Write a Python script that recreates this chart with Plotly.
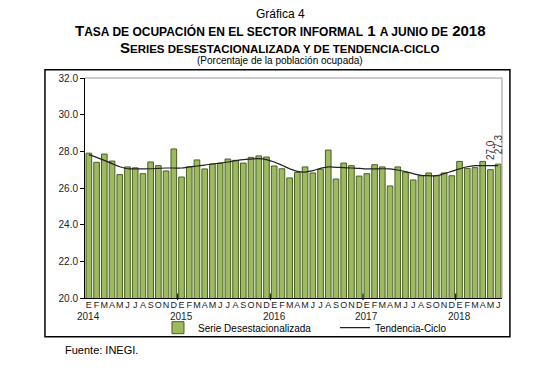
import plotly.graph_objects as go

month_letters = ["E", "F", "M", "A", "M", "J", "J", "A", "S", "O", "N", "D"]
years = [2014, 2015, 2016, 2017, 2018]

serie = [27.9, 27.4, 27.85, 27.47, 26.73, 27.15, 27.1, 26.78, 27.42, 27.22, 26.93, 28.13,
         26.6, 27.15, 27.53, 27.04, 27.31, 27.35, 27.58, 27.51, 27.36, 27.67, 27.75, 27.69,
         27.2, 27.05, 26.55, 26.85, 27.15, 26.82, 27.02, 28.07, 26.49, 27.36, 27.22, 26.65,
         26.78, 27.27, 27.15, 26.11, 27.15, 26.87, 26.44, 26.67, 26.82, 26.67, 26.82, 26.67,
         27.45, 27.07, 27.11, 27.45, 27.0, 27.3]

tendencia = [27.82, 27.67, 27.51, 27.33, 27.16, 27.05, 27.04, 27.04, 27.05, 27.07, 27.09, 27.09,
             27.09, 27.15, 27.2, 27.25, 27.31, 27.36, 27.42, 27.49, 27.55, 27.58, 27.6, 27.55,
             27.42, 27.24, 27.05, 26.91, 26.87, 26.95, 27.07, 27.15, 27.13, 27.11, 27.09, 27.07,
             27.04, 27.04, 27.05, 27.04, 26.98, 26.89, 26.78, 26.69, 26.67, 26.67, 26.78, 26.91,
             27.04, 27.16, 27.22, 27.22, 27.22, 27.22]

n = len(serie)
xs = list(range(n))
tick_text = [month_letters[i % 12] for i in xs]

FONT = "Arial, Liberation Sans, sans-serif"
TX = 0.468  # horizontal centre of the titles (paper)

fig = go.Figure()
fig.add_trace(go.Bar(
    x=xs, y=serie, name="Serie Desestacionalizada",
    marker=dict(color="#9dba5e", line=dict(color="#4a5e22", width=1)),
))
fig.add_trace(go.Scatter(
    x=xs, y=tendencia, name="Tendencia-Ciclo", mode="lines",
    line=dict(color="#222222", width=1.2, shape="spline"),
))

annotations = []
def ann(text, x, y, size, xref="paper", yref="paper", **kw):
    d = dict(text=text, x=x, y=y, xref=xref, yref=yref, showarrow=False,
             xanchor=kw.pop("xanchor", "center"), yanchor=kw.pop("yanchor", "middle"),
             font=dict(size=size, color=kw.pop("color", "black"), family=FONT))
    d.update(kw)
    annotations.append(d)

ann("Gráfica 4", TX, 1.292, 12)
s = "font-size:12px"
ann(f"<b>T<span style='{s}'>ASA DE OCUPACIÓN EN EL SECTOR INFORMAL</span> 1 "
    f"<span style='{s}'>A JUNIO DE</span> 2018</b>", TX, 1.214, 15)
s3 = "font-size:11.5px"
ann(f"<b>S<span style='{s3}'>ERIES DESESTACIONALIZADA Y DE TENDENCIA-CICLO</span></b>",
    TX, 1.140, 15)
ann("(Porcentaje de la población ocupada)", TX, 1.078, 10)
for k, yr in enumerate(years):
    ann(str(yr), k * 12, -0.083, 10, xref="x", color="#222")
for i in (n - 2, n - 1):
    ann(f"{serie[i]:.1f}", i, serie[i], 10, xref="x", yref="y", yanchor="bottom",
        textangle=-90, yshift=8, color="#333")
ann("Fuente: INEGI.", -0.053, -0.235, 11, xanchor="left")

shapes = []
shapes.append(dict(type="rect", xref="paper", yref="paper", x0=-0.096, x1=1.019,
                   y0=-0.176, y1=1.038, line=dict(color="black", width=1.5)))
shapes.append(dict(type="line", xref="paper", yref="paper", x0=0, x1=1, y0=1, y1=1,
                   line=dict(color="#999", width=1)))
shapes.append(dict(type="line", xref="paper", yref="paper", x0=1, x1=1, y0=0, y1=1,
                   line=dict(color="#999", width=1)))
for i in xs:
    if i > 0 and i % 12 == 0:
        shapes.append(dict(type="line", xref="x", yref="paper", x0=i - 0.5, x1=i - 0.5,
                           y0=-0.01, y1=0.02, line=dict(color="black", width=1)))

fig.update_layout(
    width=551, height=373,
    margin=dict(l=85, r=49, t=78, b=75, autoexpand=False),
    paper_bgcolor="white", plot_bgcolor="white",
    font=dict(family=FONT, color="black"),
    bargap=0.27,
    showlegend=True,
    legend=dict(orientation="h", x=0.175, y=-0.135, xanchor="left", yanchor="middle",
                font=dict(size=10, family=FONT), entrywidth=132, entrywidthmode="pixels",
                bgcolor="rgba(0,0,0,0)", itemwidth=30),
    annotations=annotations,
    shapes=shapes,
)
fig.update_xaxes(
    range=[-0.5, n - 0.5], tickmode="array", tickvals=xs, ticktext=tick_text,
    tickangle=0, showline=True, linecolor="black", linewidth=1, ticks="",
    ticklabelstandoff=-2,
    showgrid=False, zeroline=False, tickfont=dict(size=9, color="#222", family=FONT),
)
fig.update_yaxes(
    range=[20, 32], tickmode="array", tickvals=[20, 22, 24, 26, 28, 30, 32],
    tickformat=".1f", showline=True, linecolor="black", linewidth=1,
    ticks="outside", ticklen=4, tickcolor="black", showgrid=False, zeroline=False,
    tickfont=dict(size=10, color="#222", family=FONT),
)

fig.write_html("out.html", config={"displayModeBar": False},
               post_script="document.body.style.margin='0px';")
